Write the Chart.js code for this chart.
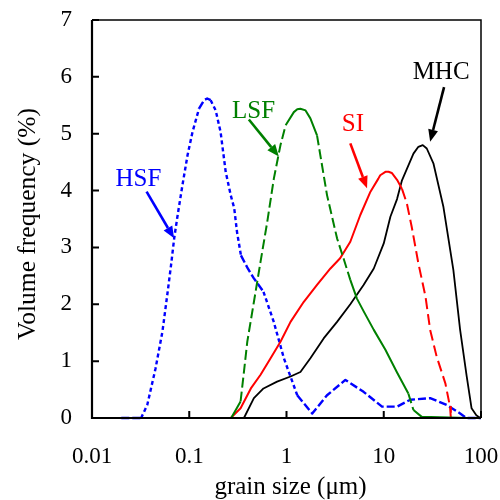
<!DOCTYPE html>
<html>
<head>
<meta charset="utf-8">
<script src="https://cdn.jsdelivr.net/npm/chart.js@4/dist/chart.umd.min.js"></script>
<style>
  html, body { margin: 0; padding: 0; background: #fff; }
  canvas { display: block; }
</style>
</head>
<body>
<canvas id="psdChart" width="500" height="500"></canvas>
<script>
// grain size (um) / volume frequency (%) for each sample
var hsfSize = [0.02, 0.032, 0.037, 0.045, 0.053, 0.06, 0.065, 0.07, 0.076, 0.085, 0.096, 0.108, 0.126, 0.142, 0.153, 0.166, 0.187, 0.21, 0.237, 0.267, 0.29, 0.31, 0.34, 0.40, 0.46, 0.58, 0.74, 0.94, 1.29, 1.84, 2.61, 4.03, 6.2, 9.6, 13.7, 18.7, 30, 44.5, 61, 71, 100];
var hsfFreq = [0, 0, 0.23, 0.87, 1.52, 2.22, 2.69, 3.16, 3.57, 4.09, 4.62, 5.03, 5.44, 5.59, 5.62, 5.59, 5.41, 5.03, 4.33, 3.92, 3.69, 3.27, 2.86, 2.63, 2.46, 2.22, 1.69, 1.05, 0.40, 0.08, 0.40, 0.67, 0.46, 0.2, 0.2, 0.32, 0.35, 0.23, 0.08, 0, 0];

var lsfSize = [0.034, 0.27, 0.337, 0.365, 0.395, 0.462, 0.541, 0.634, 0.741, 0.867, 0.98, 1.19, 1.29, 1.39, 1.57, 1.76, 2.06, 2.61, 3.31, 3.87, 4.53, 5.3, 6.2, 7.9, 10.4, 13.7, 17.9, 20.2, 24.6, 72];
var lsfFreq = [0, 0, 0.29, 0.81, 1.34, 2.04, 2.75, 3.45, 4.21, 4.80, 5.15, 5.38, 5.43, 5.44, 5.41, 5.27, 4.97, 3.92, 3.16, 2.80, 2.43, 2.10, 1.88, 1.55, 1.20, 0.80, 0.43, 0.14, 0.02, 0];

var siSize = [0.267, 0.337, 0.43, 0.541, 0.686, 0.867, 1.1, 1.5, 2.06, 2.83, 3.56, 4.53, 5.74, 7.3, 8.8, 9.2, 10.4, 11.2, 12.1, 13.7, 15.4, 17.3, 19.4, 22.7, 26.9, 30, 35, 43, 48, 49];
var siFreq = [0, 0.17, 0.52, 0.76, 1.05, 1.34, 1.69, 2.04, 2.34, 2.63, 2.81, 3.10, 3.57, 3.98, 4.21, 4.27, 4.33, 4.33, 4.31, 4.19, 4.03, 3.77, 3.36, 2.72, 2.13, 1.55, 1.08, 0.61, 0.2, 0];

var mhcSize = [0.365, 0.462, 0.58, 0.80, 1.1, 1.39, 1.76, 2.41, 3.31, 4.53, 6.2, 7.9, 10, 11.7, 13.7, 15.4, 20.2, 22.7, 25.2, 27.7, 32.4, 41.1, 52, 61, 71.3, 80, 89.5, 98];
var mhcFreq = [0, 0.35, 0.52, 0.64, 0.73, 0.81, 1.05, 1.40, 1.69, 2.0, 2.34, 2.63, 3.07, 3.54, 3.85, 4.18, 4.65, 4.77, 4.80, 4.74, 4.48, 3.71, 2.60, 1.55, 0.73, 0.17, 0.05, 0];

var sizeTicks = [0.01, 0.1, 1, 10, 100];
var sizeTickLabels = ['0.01', '0.1', '1', '10', '100'];
var freqTicks = [0, 1, 2, 3, 4, 5, 6, 7];

var xTitle = 'grain size (μm)';
var yTitle = 'Volume frequency (%)';

// callouts: label, where the label sits, arrow tail and arrow tip (data units)
var noteText = ['HSF', 'LSF', 'SI', 'MHC'];
var noteAt = [[0.030, 4.20], [0.459, 5.40], [4.81, 5.17], [38.9, 6.08]];
var arrowFrom = [[0.0364, 3.98], [0.41, 5.25], [4.53, 4.83], [41.7, 5.82]];
var arrowTo = [[0.0698, 3.16], [0.834, 4.60], [6.73, 4.04], [30, 4.86]];
var noteColor = ['#0000ff', '#008000', '#ff0000', '#000000'];

var serif = "'Liberation Serif', 'Times New Roman', serif";

function pts(xs, ys) {
  return xs.map(function (x, i) { return { x: x, y: ys[i] }; });
}

// steep pieces get the dash pattern, flat pieces the other one
function slopeDash(steep, flat, ratio) {
  return function (ctx) {
    var dx = Math.abs(ctx.p1.x - ctx.p0.x);
    var dy = Math.abs(ctx.p1.y - ctx.p0.y);
    return dy > ratio * dx ? steep : flat;
  };
}

// keep the plot box where the layout padding puts it
function noScalePadding(s) {
  s.paddingLeft = 0; s.paddingRight = 0; s.paddingTop = 0; s.paddingBottom = 0;
}

var framePlugin = {
  id: 'frame',
  afterDatasetsDraw: function (chart) {
    var a = chart.chartArea, c = chart.ctx;
    var xs = chart.scales.x, ys = chart.scales.y;
    c.save();
    c.strokeStyle = '#000';
    c.lineWidth = 1.5;
    c.beginPath();
    c.moveTo(a.left, a.top); c.lineTo(a.right, a.top); c.lineTo(a.right, a.bottom);
    c.stroke();
    c.lineWidth = 2.2;
    c.beginPath();
    c.moveTo(a.left, a.top); c.lineTo(a.left, a.bottom); c.lineTo(a.right, a.bottom);
    c.stroke();
    // inward tick marks
    c.lineWidth = 2;
    c.beginPath();
    freqTicks.forEach(function (v) {
      var y = ys.getPixelForValue(v);
      c.moveTo(a.left, y); c.lineTo(a.left + 7, y);
    });
    sizeTicks.forEach(function (v) {
      var x = xs.getPixelForValue(v);
      c.moveTo(x, a.bottom); c.lineTo(x, a.bottom - 7);
    });
    c.stroke();

    // axis titles
    c.fillStyle = '#000';
    c.font = '25px ' + serif;
    c.textAlign = 'center';
    c.textBaseline = 'middle';
    c.fillText(xTitle, (a.left + a.right) / 2 + 4, a.bottom + 69);
    c.translate(a.left - 64, (a.top + a.bottom) / 2 + 5);
    c.rotate(-Math.PI / 2);
    c.font = '25.5px ' + serif;
    c.fillText(yTitle, 0, 0);
    c.restore();
  }
};

var notesPlugin = {
  id: 'notes',
  afterDatasetsDraw: function (chart) {
    var c = chart.ctx, xs = chart.scales.x, ys = chart.scales.y;
    c.save();
    c.font = '25px ' + serif;
    c.textAlign = 'center';
    c.textBaseline = 'middle';
    noteText.forEach(function (t, i) {
      var col = noteColor[i];
      c.fillStyle = col;
      c.strokeStyle = col;
      c.fillText(t, xs.getPixelForValue(noteAt[i][0]), ys.getPixelForValue(noteAt[i][1]));
      var x0 = xs.getPixelForValue(arrowFrom[i][0]), y0 = ys.getPixelForValue(arrowFrom[i][1]);
      var x1 = xs.getPixelForValue(arrowTo[i][0]), y1 = ys.getPixelForValue(arrowTo[i][1]);
      var ang = Math.atan2(y1 - y0, x1 - x0);
      var head = 12, half = 5;
      var bx = x1 - head * Math.cos(ang), by = y1 - head * Math.sin(ang);
      c.lineWidth = 2.6;
      c.beginPath();
      c.moveTo(x0, y0); c.lineTo(bx, by);
      c.stroke();
      c.beginPath();
      c.moveTo(x1, y1);
      c.lineTo(bx + half * Math.sin(ang), by - half * Math.cos(ang));
      c.lineTo(bx - half * Math.sin(ang), by + half * Math.cos(ang));
      c.closePath();
      c.fill();
    });
    c.restore();
  }
};

new Chart(document.getElementById('psdChart'), {
  type: 'scatter',
  data: {
    datasets: [
      {
        label: 'LSF', data: pts(lsfSize, lsfFreq), borderColor: '#008000', borderWidth: 2,
        segment: { borderDash: slopeDash([10, 4], [], 3) }
      },
      {
        label: 'SI', data: pts(siSize, siFreq), borderColor: '#ff0000', borderWidth: 2,
        segment: { borderDash: slopeDash([11, 5], [], 3) }
      },
      {
        label: 'MHC', data: pts(mhcSize, mhcFreq), borderColor: '#000000', borderWidth: 1.8
      },
      {
        label: 'HSF', data: pts(hsfSize, hsfFreq), borderColor: '#0000ff', borderWidth: 2.4,
        segment: { borderDash: slopeDash([4, 3], [8, 3], 2) }
      }
    ]
  },
  options: {
    responsive: false,
    animation: false,
    showLine: true,
    layout: { padding: { top: 20, right: 19, left: 0, bottom: 0 } },
    plugins: { legend: { display: false }, tooltip: { enabled: false } },
    elements: {
      point: { radius: 0, hoverRadius: 0 },
      line: { tension: 0, fill: false, borderJoinStyle: 'round' }
    },
    datasets: { scatter: { clip: false } },
    scales: {
      x: {
        type: 'logarithmic', min: 0.01, max: 100,
        afterBuildTicks: function (s) { s.ticks = sizeTicks.map(function (v) { return { value: v }; }); },
        afterFit: function (s) { s.height = 82; noScalePadding(s); },
        grid: { display: false, drawTicks: false },
        border: { display: false },
        ticks: {
          padding: 25, color: '#000', autoSkip: false, maxRotation: 0,
          font: { family: serif, size: 23 },
          callback: function (v, i) { return sizeTickLabels[i]; }
        }
      },
      y: {
        min: 0, max: 7,
        afterBuildTicks: function (s) { s.ticks = freqTicks.map(function (v) { return { value: v }; }); },
        afterFit: function (s) { s.width = 92; noScalePadding(s); },
        grid: { display: false, drawTicks: false },
        border: { display: false },
        ticks: {
          padding: 20, color: '#000',
          font: { family: serif, size: 23 }
        }
      }
    }
  },
  plugins: [framePlugin, notesPlugin]
});
</script>
</body>
</html>
